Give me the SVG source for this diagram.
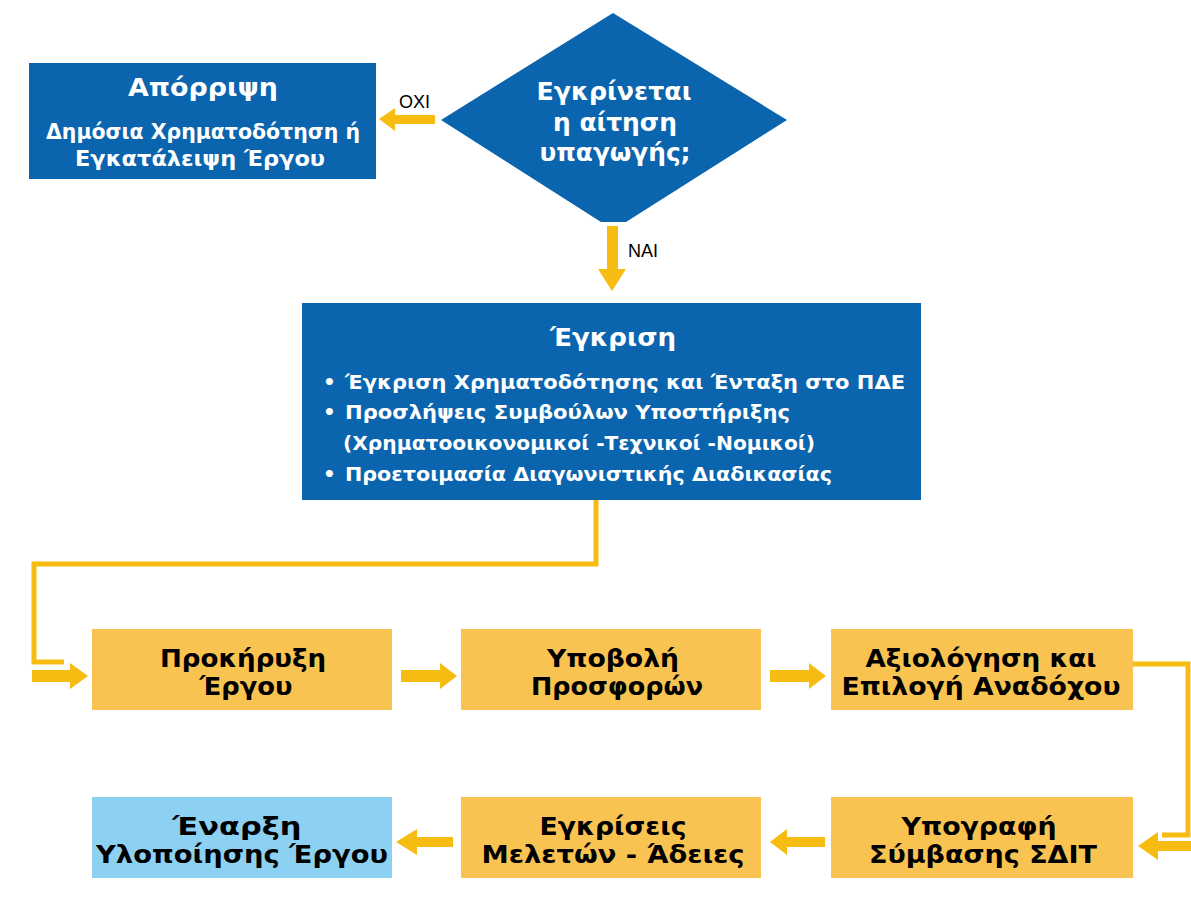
<svg xmlns="http://www.w3.org/2000/svg" width="1191" height="914" viewBox="0 0 1191 914">
<style>
.blue{fill:#0A64AE}
.yel{fill:#F9C352}
.lblue{fill:#8DD1F2}
.wt{fill:#fff;font-family:"DejaVu Sans",sans-serif;font-weight:bold;text-anchor:middle}
.bt{fill:#000;font-family:"DejaVu Sans",sans-serif;font-weight:bold;font-size:25px;text-anchor:middle}
.wl{fill:#fff;font-family:"DejaVu Sans",sans-serif;font-weight:bold;font-size:20px}
.lab{fill:#000;font-family:"Liberation Sans",Arial,sans-serif;font-size:18px}
.ln{fill:none;stroke:#F7BC12;stroke-width:5}
.ar{fill:#F7BC12}
</style>
<rect width="1191" height="914" fill="#fff"/>
<g id="connectors">
<polygon class="ar" points="435,115 395,115 395,108 379,119 395,131 395,124 435,124"/>
<text class="lab" x="399" y="108">OXI</text>
<polygon class="ar" points="607,226 618,226 618,269 626,269 612,291 598,269 607,269"/>
<text class="lab" x="628" y="257">NAI</text>
<polyline class="ln" points="596,500 596,564 34,564 34,662 64,662"/>
<polygon class="ar" points="32,670 70,670 70,663 88,676 70,689 70,682 32,682"/>
<polygon class="ar" points="401,670 440,670 440,663 457,676 440,689 440,682 401,682"/>
<polygon class="ar" points="770,670 809,670 809,663 826,676 809,689 809,682 770,682"/>
<polyline class="ln" points="1133,664 1188,664 1188,835 1162,835"/>
<polygon class="ar" points="1191,841 1158,841 1158,832 1138,846 1158,860 1158,851 1191,851"/>
<polygon class="ar" points="825,837 787,837 787,829 770,842 787,855 787,847 825,847"/>
<polygon class="ar" points="453,837 417,837 417,829 396,842 417,855 417,847 453,847"/>
</g>
<g id="rejection">
<rect class="blue" x="29" y="63" width="347" height="116"/>
<text class="wt" x="203" y="96" font-size="25" textLength="150" lengthAdjust="spacingAndGlyphs">Απόρριψη</text>
<text class="wt" x="203" y="139" font-size="21" textLength="314" lengthAdjust="spacingAndGlyphs">Δημόσια Χρηματοδότηση ή</text>
<text class="wt" x="200" y="166" font-size="21" textLength="250" lengthAdjust="spacingAndGlyphs">Εγκατάλειψη Έργου</text>
</g>
<g id="decision">
<polygon class="blue" points="441,120 613,13 787,120 626,222 601,222"/>
<text class="wt" x="614" y="100" font-size="25" textLength="155" lengthAdjust="spacingAndGlyphs">Εγκρίνεται</text>
<text class="wt" x="615" y="131" font-size="25" textLength="124" lengthAdjust="spacingAndGlyphs">η αίτηση</text>
<text class="wt" x="615" y="161" font-size="25" textLength="151" lengthAdjust="spacingAndGlyphs">υπαγωγής;</text>
</g>
<g id="approval">
<rect class="blue" x="302" y="303" width="619" height="197"/>
<text class="wt" x="613" y="346" font-size="25" textLength="126" lengthAdjust="spacingAndGlyphs">Έγκριση</text>
<text class="wl" x="323" y="389">•</text>
<text class="wl" x="345" y="389" textLength="560" lengthAdjust="spacingAndGlyphs">Έγκριση Χρηματοδότησης και Ένταξη στο ΠΔΕ</text>
<text class="wl" x="323" y="419">•</text>
<text class="wl" x="345" y="419" textLength="445" lengthAdjust="spacingAndGlyphs">Προσλήψεις Συμβούλων Υποστήριξης</text>
<text class="wl" x="343" y="450" textLength="472" lengthAdjust="spacingAndGlyphs">(Χρηματοοικονομικοί -Τεχνικοί -Νομικοί)</text>
<text class="wl" x="323" y="481">•</text>
<text class="wl" x="345" y="481" textLength="487" lengthAdjust="spacingAndGlyphs">Προετοιμασία Διαγωνιστικής Διαδικασίας</text>
</g>
<g id="tender">
<rect class="yel" x="92" y="629" width="300" height="81"/>
<text class="bt" x="243" y="667" textLength="166" lengthAdjust="spacingAndGlyphs">Προκήρυξη</text>
<text class="bt" x="246" y="695" textLength="93" lengthAdjust="spacingAndGlyphs">Έργου</text>
</g>
<g id="offers">
<rect class="yel" x="461" y="629" width="300" height="81"/>
<text class="bt" x="613" y="667" textLength="132" lengthAdjust="spacingAndGlyphs">Υποβολή</text>
<text class="bt" x="617" y="695" textLength="172" lengthAdjust="spacingAndGlyphs">Προσφορών</text>
</g>
<g id="evaluation">
<rect class="yel" x="831" y="629" width="302" height="81"/>
<text class="bt" x="981" y="667" textLength="231" lengthAdjust="spacingAndGlyphs">Αξιολόγηση και</text>
<text class="bt" x="981" y="695" textLength="279" lengthAdjust="spacingAndGlyphs">Επιλογή Αναδόχου</text>
</g>
<g id="contract">
<rect class="yel" x="831" y="797" width="302" height="81"/>
<text class="bt" x="979" y="835" textLength="155" lengthAdjust="spacingAndGlyphs">Υπογραφή</text>
<text class="bt" x="983" y="863" textLength="228" lengthAdjust="spacingAndGlyphs">Σύμβασης ΣΔΙΤ</text>
</g>
<g id="permits">
<rect class="yel" x="461" y="797" width="300" height="81"/>
<text class="bt" x="613" y="835" textLength="147" lengthAdjust="spacingAndGlyphs">Εγκρίσεις</text>
<text class="bt" x="613" y="863" textLength="263" lengthAdjust="spacingAndGlyphs">Μελετών - Άδειες</text>
</g>
<g id="start">
<rect class="lblue" x="92" y="797" width="300" height="81"/>
<text class="bt" x="237" y="835" textLength="129" lengthAdjust="spacingAndGlyphs">Έναρξη</text>
<text class="bt" x="242" y="863" textLength="292" lengthAdjust="spacingAndGlyphs">Υλοποίησης Έργου</text>
</g>
</svg>
